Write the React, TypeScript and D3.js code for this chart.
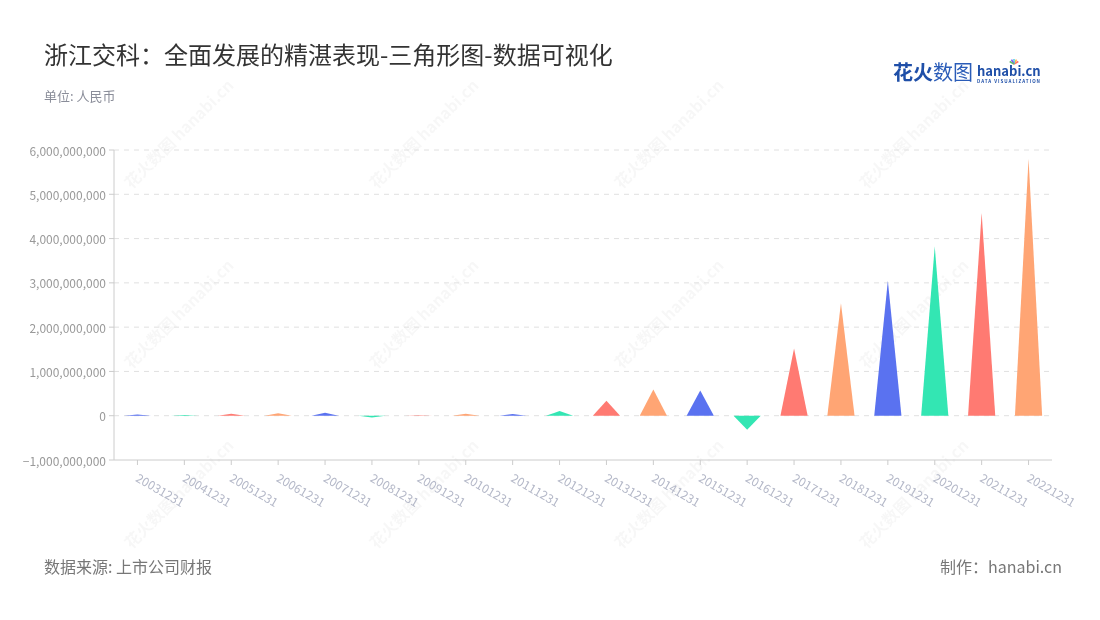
import React from "react";
import * as d3 from "d3";

const categories = [
  "20031231", "20041231", "20051231", "20061231", "20071231",
  "20081231", "20091231", "20101231", "20111231", "20121231",
  "20131231", "20141231", "20151231", "20161231", "20171231",
  "20181231", "20191231", "20201231", "20211231", "20221231",
];
const values = [
  30e6, 15e6, 45e6, 55e6, 65e6,
  -40e6, 10e6, 45e6, 40e6, 105e6,
  340e6, 590e6, 570e6, -315e6, 1.52e9,
  2.54e9, 3.05e9, 3.82e9, 4.58e9, 5.8e9,
];
const palette = ["#5a72f0", "#33e6b3", "#ff7a72", "#ffa574"];
const yTicks = [-1e9, 0, 1e9, 2e9, 3e9, 4e9, 5e9, 6e9];

const W = 1100;
const H = 620;
const FONT = '"Noto Sans CJK SC", "Noto Sans", sans-serif';

const wmCols = [180, 425, 670, 915];
const wmRows = [135, 315, 495];

export default function App() {
  const left = 114, right = 1052, top = 150, bottom = 460;
  const x = d3.scaleBand<string>().domain(categories).range([left, right]);
  const y = d3.scaleLinear().domain([-1e9, 6e9]).range([bottom, top]);
  const fmt = d3.format(",");
  const bw = x.bandwidth();
  const triW = bw * 0.58;
  const y0 = y(0);

  return (
    <svg width={W} height={H} style={{ position: "absolute", left: 0, top: 0, background: "#fff" }} fontFamily={FONT}>
      {/* watermarks */}
      <g fill="#000" opacity={0.035}>
        {wmRows.map((ry) =>
          wmCols.map((cx) => (
            <text key={`${cx}-${ry}`} transform={`translate(${cx},${ry}) rotate(-45)`} textAnchor="middle" dominantBaseline="middle" fontSize={16} fontWeight={700}>
              花火数图 hanabi.cn
            </text>
          ))
        )}
      </g>

      {/* title */}
      <text x={44} y={64} fontSize={24} fill="#333">浙江交科：全面发展的精湛表现-三角形图-数据可视化</text>
      <text x={44} y={101} fontSize={13} fill="#8a8d99">单位: 人民币</text>

      {/* logo */}
      <g>
        <text x={893} y={80} fontSize={20} fontWeight={700} fill="#1f4fa8">花火</text>
        <text x={933} y={80} fontSize={20} fill="#2a5cb8">数图</text>
        <text x={977} y={76} fontSize={13} fontWeight={700} fill="#1f4fa8">hanabi.cn</text>
        <text x={977} y={83} fontSize={4.5} fontWeight={700} fill="#1f4fa8" letterSpacing={1}>DATA VISUALIZATION</text>
        {["#ff6b6b", "#ffb347", "#4dd0e1", "#7c4dff", "#66bb6a"].map((c, i) => (
          <line key={c} x1={1014} y1={64} x2={1014 + 5 * Math.cos(-Math.PI / 6 - i * Math.PI / 6)} y2={64 + 5 * Math.sin(-Math.PI / 6 - i * Math.PI / 6)} stroke={c} strokeWidth={1.5} />
        ))}
      </g>

      {/* gridlines */}
      {yTicks.filter((t) => t !== -1e9).map((t) => (
        <line key={t} x1={left} x2={right} y1={y(t)} y2={y(t)} stroke="#e0e0e0" strokeDasharray="5 5" />
      ))}

      {/* y axis */}
      <line x1={left} x2={left} y1={top} y2={bottom} stroke="#ccc" />
      {yTicks.map((t) => (
        <g key={t}>
          <line x1={left - 5} x2={left} y1={y(t)} y2={y(t)} stroke="#ccc" />
          <text x={left - 8} y={y(t)} textAnchor="end" dominantBaseline="central" fontSize={12} fill="#999">{fmt(t)}</text>
        </g>
      ))}

      {/* x axis */}
      <line x1={left} x2={right} y1={bottom} y2={bottom} stroke="#ccc" />
      {categories.map((c) => {
        const cx = x(c)! + bw / 2;
        return (
          <g key={c}>
            <line x1={cx} x2={cx} y1={bottom} y2={bottom + 5} stroke="#ccc" />
            <text transform={`translate(${cx + 3},${bottom + 11}) rotate(30)`} fontSize={12} fill="#b4b8c8" dominantBaseline="hanging">{c}</text>
          </g>
        );
      })}

      {/* triangles */}
      {categories.map((c, i) => {
        const cx = x(c)! + bw / 2;
        const v = values[i];
        const yt = y(v);
        const path = `M${cx - triW / 2},${y0} L${cx},${yt} L${cx + triW / 2},${y0} Z`;
        return <path key={c} d={path} fill={palette[i % palette.length]} />;
      })}

      {/* footer */}
      <text x={44} y={573} fontSize={16} fill="#777">数据来源: 上市公司财报</text>
      <text x={1062} y={573} fontSize={16} fill="#777" textAnchor="end">制作：hanabi.cn</text>
    </svg>
  );
}
